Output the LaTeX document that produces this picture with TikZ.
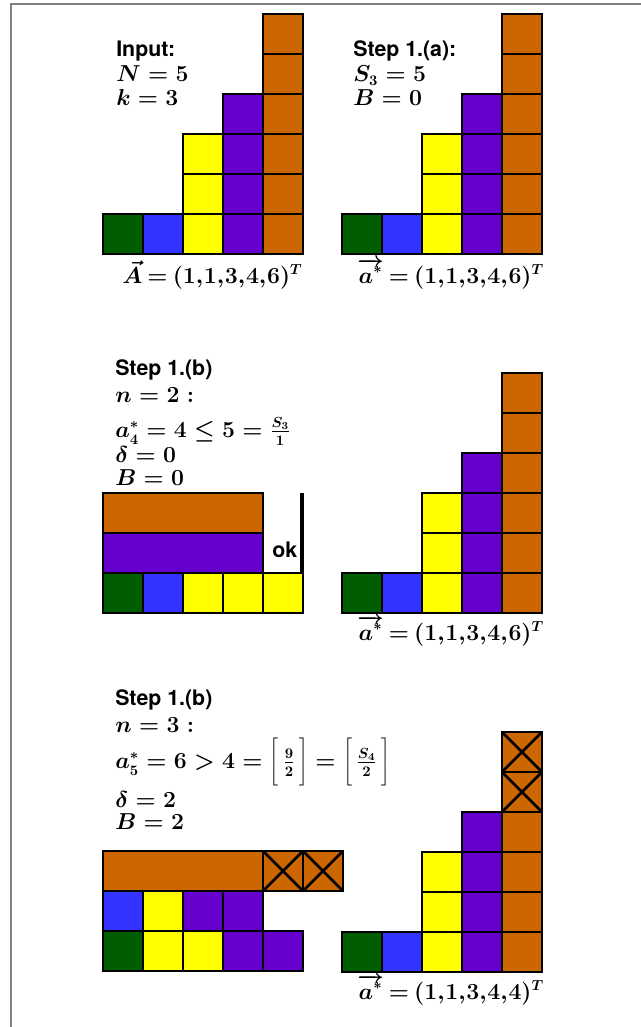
\documentclass[tikz,border=0pt]{standalone}
\usepackage[no-math]{fontspec}
\newfontfamily\helv{TeX Gyre Heros}
\definecolor{cgreen}{HTML}{005E00}
\definecolor{cblue}{HTML}{3333FF}
\definecolor{cyellow}{HTML}{FFFF00}
\definecolor{cpurple}{HTML}{6600CC}
\definecolor{corange}{HTML}{CC6600}
\definecolor{frame}{HTML}{808080}
\newcommand\tightrel{\thickmuskip=3.5mu\relax}
\tikzset{
  cellbox/.style={draw=black, line width=2.1pt},
  cross/.style={draw=black, line width=2.1pt},
  txt/.style={anchor=base west, inner sep=0pt, font=\fontsize{16}{19}\selectfont\boldmath},
  lbl/.style={txt, font=\fontsize{16}{19}\selectfont\boldmath\tightrel},
  stxt/.style={anchor=base west, inner sep=0pt, font=\fontsize{16}{19}\selectfont\helv\bfseries},
}
% \colcells{x}{bottom}{height}{colour}
\newcommand\colcells[4]{%
  \foreach \i in {1,...,#3}{%
    \filldraw[cellbox, fill=#4] (#1,{#2-40*\i}) rectangle ++(40,40);
  }%
}
\newcommand\staircase[2]{%
  \colcells{#1}{#2}{1}{cgreen}
  \colcells{#1+40}{#2}{1}{cblue}
  \colcells{#1+80}{#2}{3}{cyellow}
  \colcells{#1+120}{#2}{4}{cpurple}
}
\newcommand\xcell[2]{%
  \filldraw[cellbox, fill=corange] (#1,#2) rectangle ++(40,40);
  \draw[cross] (#1,#2) -- ++(40,40);
  \draw[cross] (#1+40,#2) -- ++(-40,40);
}
\newcommand\cm{{,}\mskip0.5mu}
\newcommand\bkt[1]{\left[\vrule width 0pt height 21pt depth 13pt\,#1\,\right]}
\begin{document}
\begin{tikzpicture}[x=0.75pt, y=-0.75pt]
\useasboundingbox (0,0) rectangle (641,1027);
% frame
\draw[frame, line width=1.6pt] (11,1027) -- (11,4) -- (641,4);

% ---------- Panel 1: input ----------
\staircase{103}{254}
\colcells{263}{254}{6}{corange}
\node[stxt] (in) at (116,57) {Input:};
\node[txt] (N) at (116,82) {$N=5$};
\node[txt] (k) at (116,106) {$k=3$};
\node[lbl] (A) at (122,283) {$\vec{A}=(1\cm1\cm3\cm4\cm6)^T$};

% ---------- Panel 2: step 1.(a) ----------
\staircase{342}{254}
\colcells{502}{254}{6}{corange}
\node[stxt] (s1a) at (353,57) {Step 1.(a):};
\node[txt] (S3) at (353,82) {$S_3=5$};
\node[txt] (B0a) at (353,106) {$B=0$};
\node[lbl] (a1) at (357,283) {$\overrightarrow{a^*}=(1\cm1\cm3\cm4\cm6)^T$};

% ---------- Panel 3: step 1.(b), n=2 ----------
\node[stxt] (s1b) at (115,375) {Step 1.(b)};
\node[txt] (n2) at (115,402) {$n=2:$};
\node[txt] (a4) at (115,437) {$a_4^*=4\le 5=\frac{S_3}{1}$};
\node[txt] (d0) at (115,462) {$\delta=0$};
\node[txt] (B0b) at (115,485) {$B=0$};
\filldraw[cellbox, fill=corange] (103,493) rectangle (263,533);
\filldraw[cellbox, fill=cpurple] (103,533) rectangle (263,573);
\filldraw[cellbox, fill=cgreen] (103,573) rectangle ++(40,40);
\filldraw[cellbox, fill=cblue] (143,573) rectangle ++(40,40);
\filldraw[cellbox, fill=cyellow] (183,573) rectangle ++(40,40);
\filldraw[cellbox, fill=cyellow] (223,573) rectangle ++(40,40);
\filldraw[cellbox, fill=cyellow] (263,573) rectangle ++(40,40);
\coordinate (wtop) at (302,493);
\coordinate (wbot) at (302,573);
\draw[line width=2.8pt] (wtop) -- (wbot);
\node[stxt] (ok) at (272,557) {ok};

% ---------- Panel 4 ----------
\staircase{342}{613}
\colcells{502}{613}{6}{corange}
\node[lbl] (a2) at (357,640) {$\overrightarrow{a^*}=(1\cm1\cm3\cm4\cm6)^T$};

% ---------- Panel 5: step 1.(b), n=3 ----------
\node[stxt] (s1b2) at (115,705) {Step 1.(b)};
\node[txt] (n3) at (115,732) {$n=3:$};
\node[txt] (a5) at (115,768) {$a_5^*=6>4=\bkt{\frac{9}{2}}=\bkt{\frac{S_4}{2}}$};
\node[txt] (d2) at (115,807) {$\delta=2$};
\node[txt] (B2) at (115,829) {$B=2$};
\filldraw[cellbox, fill=corange] (103,851) rectangle (263,891);
\xcell{263}{851}
\xcell{303}{851}
\filldraw[cellbox, fill=cblue] (103,891) rectangle ++(40,40);
\filldraw[cellbox, fill=cyellow] (143,891) rectangle ++(40,40);
\filldraw[cellbox, fill=cpurple] (183,891) rectangle ++(40,40);
\filldraw[cellbox, fill=cpurple] (223,891) rectangle ++(40,40);
\filldraw[cellbox, fill=cgreen] (103,931) rectangle ++(40,40);
\filldraw[cellbox, fill=cyellow] (143,931) rectangle ++(40,40);
\filldraw[cellbox, fill=cyellow] (183,931) rectangle ++(40,40);
\filldraw[cellbox, fill=cpurple] (223,931) rectangle ++(40,40);
\filldraw[cellbox, fill=cpurple] (263,931) rectangle ++(40,40);

% ---------- Panel 6 ----------
\staircase{342}{972}
\colcells{502}{972}{4}{corange}
\xcell{502}{772}
\xcell{502}{732}
\node[lbl] (a3) at (357,999) {$\overrightarrow{a^*}=(1\cm1\cm3\cm4\cm4)^T$};
\end{tikzpicture}
\end{document}
